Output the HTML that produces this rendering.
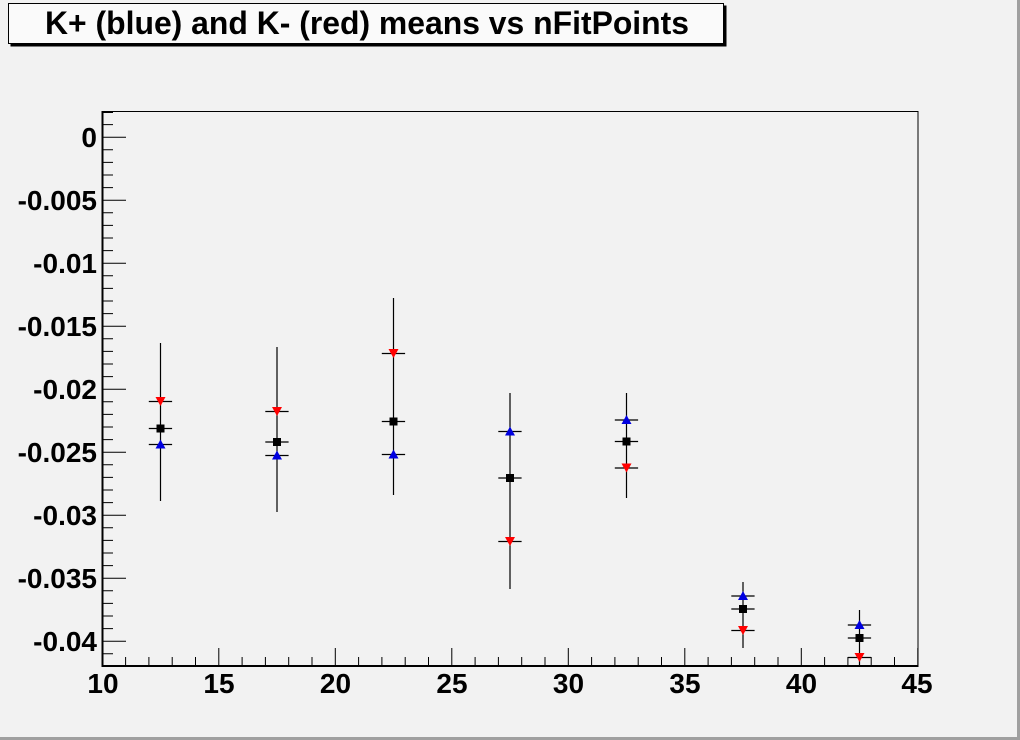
<!DOCTYPE html>
<html>
<head>
<meta charset="utf-8">
<style>
html,body{margin:0;padding:0;background:#f2f2f2;}
svg{display:block;}
text{font-family:"Liberation Sans",Arial,sans-serif;font-weight:bold;fill:#000;}
</style>
</head>
<body>
<svg width="1020" height="740" viewBox="0 0 1020 740" xmlns="http://www.w3.org/2000/svg">
  <rect x="0" y="0" width="1020" height="740" fill="#f2f2f2"/>
  <!-- canvas border -->
  <rect x="1017" y="0" width="3" height="740" fill="#a0a0a0"/>
  <rect x="0" y="737" width="1020" height="3" fill="#a0a0a0"/>

  <!-- title box -->
  <rect x="10.5" y="5.5" width="716" height="41" fill="#000"/>
  <rect x="8.5" y="3.5" width="715" height="40" fill="#fafafa" stroke="#000" stroke-width="1"/>
  <text x="45" y="34" font-size="32" textLength="644" lengthAdjust="spacingAndGlyphs">K+ (blue) and K- (red) means vs nFitPoints</text>

  <!-- frame -->
  <rect x="102.5" y="111.5" width="815.5" height="554.5" fill="#f2f2f2" stroke="#000" stroke-width="1"/>
  <line x1="102.5" y1="111" x2="102.5" y2="667" stroke="#000" stroke-width="2"/>
  <line x1="101.5" y1="666" x2="918.5" y2="666" stroke="#000" stroke-width="2"/>

  <!-- y ticks -->
  <g stroke="#000" stroke-width="1">
    <path d="M102 112.5h11 M102 124.6h11 M102 137.2h24 M102 149.8h11 M102 162.4h11 M102 175h11 M102 187.6h11 M102 200.2h24 M102 212.8h11 M102 225.4h11 M102 238h11 M102 250.6h11 M102 263.2h24 M102 275.8h11 M102 288.4h11 M102 301h11 M102 313.6h11 M102 326.2h24 M102 338.8h11 M102 351.4h11 M102 364h11 M102 376.6h11 M102 389.2h24 M102 401.8h11 M102 414.4h11 M102 427h11 M102 439.6h11 M102 452.2h24 M102 464.8h11 M102 477.4h11 M102 490h11 M102 502.6h11 M102 515.2h24 M102 527.8h11 M102 540.4h11 M102 553h11 M102 565.6h11 M102 578.2h24 M102 590.8h11 M102 603.4h11 M102 616h11 M102 628.6h11 M102 641.2h24 M102 653.8h11"/>
  </g>

  <!-- x ticks -->
  <g stroke="#000" stroke-width="1">
    <path d="M125.6 666v-9 M148.9 666v-9 M172.2 666v-9 M195.5 666v-9 M218.8 666v-18 M242.1 666v-9 M265.4 666v-9 M288.7 666v-9 M312 666v-9 M335.3 666v-18 M358.6 666v-9 M381.9 666v-9 M405.2 666v-9 M428.5 666v-9 M451.8 666v-18 M475.1 666v-9 M498.4 666v-9 M521.7 666v-9 M545 666v-9 M568.3 666v-18 M591.6 666v-9 M614.9 666v-9 M638.2 666v-9 M661.5 666v-9 M684.8 666v-18 M708.1 666v-9 M731.4 666v-9 M754.7 666v-9 M778 666v-9 M801.3 666v-18 M824.6 666v-9 M847.9 666v-9 M871.2 666v-9 M894.5 666v-9 M917.8 666v-18"/>
  </g>

  <!-- y labels -->
  <g font-size="28" text-anchor="end">
    <text x="97" y="147.2">0</text>
    <text x="97" y="210.2">-0.005</text>
    <text x="97" y="273.2">-0.01</text>
    <text x="97" y="336.2">-0.015</text>
    <text x="97" y="399.2">-0.02</text>
    <text x="97" y="462.2">-0.025</text>
    <text x="97" y="525.2">-0.03</text>
    <text x="97" y="588.2">-0.035</text>
    <text x="97" y="651.2">-0.04</text>
  </g>

  <!-- x labels -->
  <g font-size="28" text-anchor="middle">
    <text x="103" y="693">10</text>
    <text x="219" y="693">15</text>
    <text x="335.5" y="693">20</text>
    <text x="452" y="693">25</text>
    <text x="568.5" y="693">30</text>
    <text x="685" y="693">35</text>
    <text x="801.5" y="693">40</text>
    <text x="917" y="693">45</text>
  </g>

  <!-- error bars -->
  <g stroke="#000" stroke-width="1.2" fill="none">
    <path d="M160.5 343V501 M148.8 401.5h23.3 M148.8 428.5h23.3 M148.8 444.5h23.3"/>
    <path d="M277 347V512 M265.3 411.5h23.3 M265.3 442h23.3 M265.3 455.5h23.3"/>
    <path d="M393.5 298V495 M381.8 353.5h23.3 M381.8 421.5h23.3 M381.8 454.5h23.3"/>
    <path d="M510 393V589 M498.3 431.5h23.3 M498.3 478h23.3 M498.3 541.5h23.3"/>
    <path d="M626.5 393V498 M614.8 420h23.3 M614.8 441.5h23.3 M614.8 468h23.3"/>
    <path d="M743 582V648 M731.3 596h23.3 M731.3 609h23.3 M731.3 630.5h23.3"/>
    <path d="M859.5 610V665 M847.8 625h23.3 M847.8 638h23.3 M847.8 657.5h23.3"/>
  </g>

  <!-- black squares -->
  <g fill="#000">
    <rect x="156.5" y="424.5" width="8" height="8"/>
    <rect x="273" y="438" width="8" height="8"/>
    <rect x="389.5" y="417.5" width="8" height="8"/>
    <rect x="506" y="474" width="8" height="8"/>
    <rect x="622.5" y="437.5" width="8" height="8"/>
    <rect x="739" y="605" width="8" height="8"/>
    <rect x="855.5" y="634" width="8" height="8"/>
  </g>

  <!-- blue up triangles -->
  <g fill="#0000e0">
    <polygon points="160.5,439.5 155.5,448.5 165.5,448.5"/>
    <polygon points="277,450.5 272,459.5 282,459.5"/>
    <polygon points="393.5,449.5 388.5,458.5 398.5,458.5"/>
    <polygon points="510,426.5 505,435.5 515,435.5"/>
    <polygon points="626.5,415 621.5,424 631.5,424"/>
    <polygon points="743,591 738,600 748,600"/>
    <polygon points="859.5,620 854.5,629 864.5,629"/>
  </g>

  <!-- red down triangles -->
  <g fill="#ff0000">
    <polygon points="160.5,406 155.5,397 165.5,397"/>
    <polygon points="277,416 272,407 282,407"/>
    <polygon points="393.5,358 388.5,349 398.5,349"/>
    <polygon points="510,546 505,537 515,537"/>
    <polygon points="626.5,472.5 621.5,463.5 631.5,463.5"/>
    <polygon points="743,635 738,626 748,626"/>
    <polygon points="859.5,662 854.5,653 864.5,653"/>
  </g>
</svg>
</body>
</html>
